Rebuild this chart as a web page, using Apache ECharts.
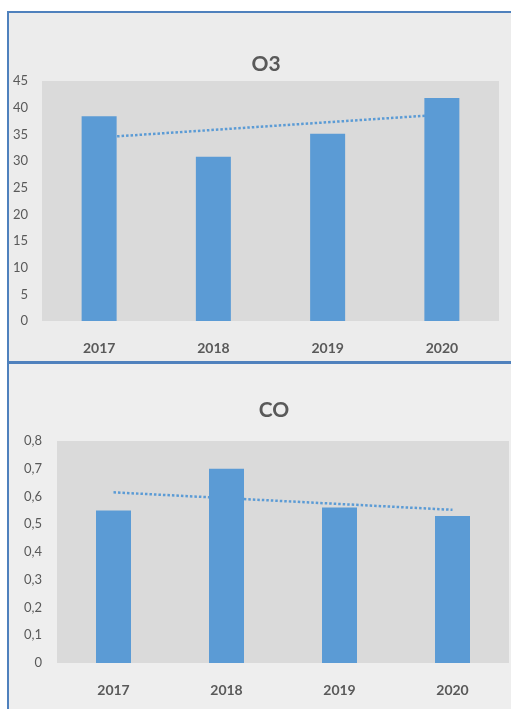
<!DOCTYPE html>
<html><head><meta charset="utf-8">
<script src="https://cdn.jsdelivr.net/npm/echarts@6/dist/echarts.min.js"></script>
<style>html,body{margin:0;padding:0;background:#fff;}#c{width:511px;height:709px;}</style>
</head><body><div id="c"></div>
<script>
var categories = ['2017', '2018', '2019', '2020'];
var o3Values = [38.4, 30.8, 35.1, 41.8];
var o3Trend = [34.4, 38.7];           // trendline at 2017 and 2020
var o3Ticks = [0, 5, 10, 15, 20, 25, 30, 35, 40, 45];
var coValues = [0.55, 0.70, 0.56, 0.53];
var coTrend = [0.615, 0.552];         // trendline at 2017 and 2020
var coTicks = [0, 0.1, 0.2, 0.3, 0.4, 0.5, 0.6, 0.7, 0.8];

var FONT = 'Lato';
var TXT = '#595959';
var BAR = '#5b9bd5';
var chart = echarts.init(document.getElementById('c'));

function trendData(t) { return [[categories[0], t[0]], [categories[categories.length - 1], t[1]]]; }

chart.setOption({
  animation: false,
  textStyle: { fontFamily: FONT },
  graphic: [
    { type: 'rect', z: -10, shape: { x: 8, y: 12, width: 503, height: 351 }, style: { fill: '#ececec' } },
    { type: 'rect', z: -10, shape: { x: 8, y: 364, width: 503, height: 345 }, style: { fill: '#eeeeee' } },
    { type: 'rect', z: -9, shape: { x: 8, y: 11, width: 503, height: 2 }, style: { fill: '#4f81bd' } },
    { type: 'rect', z: -9, shape: { x: 7, y: 11, width: 2, height: 698 }, style: { fill: '#4f81bd' } },
    { type: 'rect', z: -9, shape: { x: 8, y: 361, width: 503, height: 3 }, style: { fill: '#4f81bd' } }
  ],
  title: [
    { text: 'O3', left: 261, top: 49, textAlign: 'center',
      textStyle: { fontFamily: FONT, fontSize: 21, fontWeight: 'bold', color: TXT } },
    { text: 'CO', left: 269, top: 395, textAlign: 'center',
      textStyle: { fontFamily: FONT, fontSize: 21, fontWeight: 'bold', color: TXT } }
  ],
  grid: [
    { left: 42, right: 12, top: 81, bottom: 388, show: true, backgroundColor: '#dadada', borderWidth: 0 },
    { left: 57, right: 2, top: 441, bottom: 46, show: true, backgroundColor: '#dadada', borderWidth: 0 }
  ],
  xAxis: [
    { type: 'category', gridIndex: 0, data: categories,
      axisLine: { show: false }, axisTick: { show: false },
      axisLabel: { margin: 20, fontFamily: FONT, fontSize: 14, fontWeight: 'bold', color: TXT } },
    { type: 'category', gridIndex: 1, data: categories,
      axisLine: { show: false }, axisTick: { show: false },
      axisLabel: { margin: 20, fontFamily: FONT, fontSize: 14, fontWeight: 'bold', color: TXT } }
  ],
  yAxis: [
    { type: 'value', gridIndex: 0, min: o3Ticks[0], max: o3Ticks[o3Ticks.length - 1], interval: 5,
      splitLine: { show: false }, axisLine: { show: false }, axisTick: { show: false },
      axisLabel: { margin: 14, fontFamily: FONT, fontSize: 13, color: TXT } },
    { type: 'value', gridIndex: 1, min: coTicks[0], max: coTicks[coTicks.length - 1], interval: 0.1,
      splitLine: { show: false }, axisLine: { show: false }, axisTick: { show: false },
      axisLabel: { margin: 15, fontFamily: FONT, fontSize: 13, color: TXT,
        formatter: function (v) { return String(Math.round(v * 10) / 10).replace('.', ','); } } }
  ],
  series: [
    { type: 'bar', xAxisIndex: 0, yAxisIndex: 0, data: o3Values, barWidth: 35,
      itemStyle: { color: BAR }, z: 3 },
    { type: 'line', xAxisIndex: 0, yAxisIndex: 0, data: trendData(o3Trend), symbol: 'none',
      lineStyle: { color: BAR, width: 2.5, type: [2.5, 2] }, z: 2 },
    { type: 'bar', xAxisIndex: 1, yAxisIndex: 1, data: coValues, barWidth: 35,
      itemStyle: { color: BAR }, z: 3 },
    { type: 'line', xAxisIndex: 1, yAxisIndex: 1, data: trendData(coTrend), symbol: 'none',
      lineStyle: { color: BAR, width: 2.5, type: [2.5, 2] }, z: 2 }
  ]
});
</script></body></html>
